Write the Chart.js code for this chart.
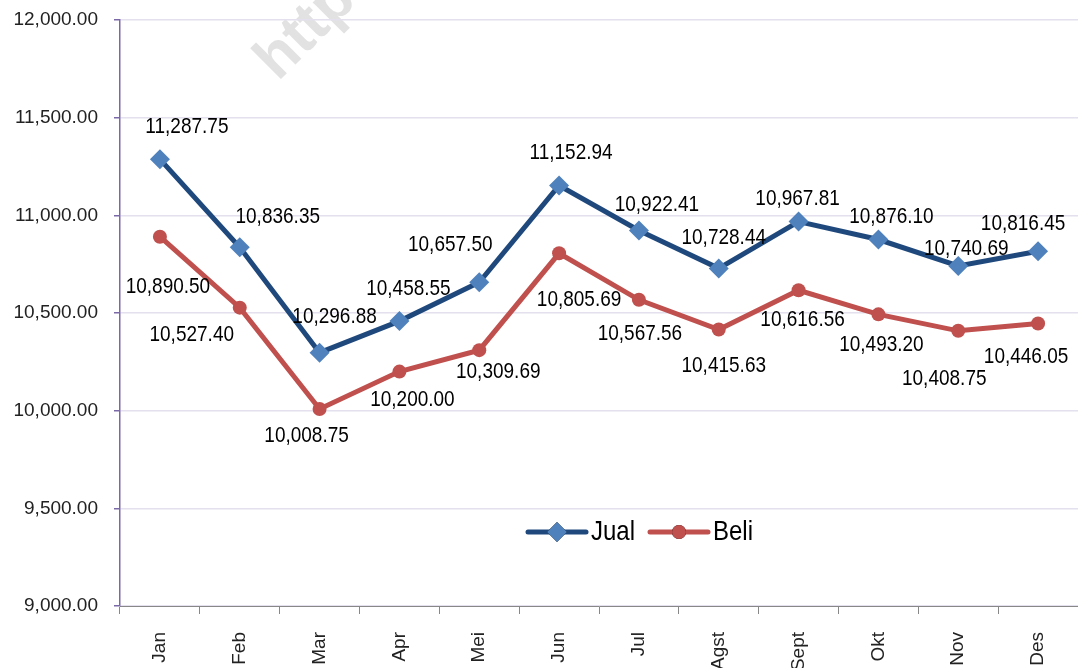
<!DOCTYPE html>
<html>
<head>
<meta charset="utf-8">
<script src="https://cdn.jsdelivr.net/npm/chart.js@4/dist/chart.umd.min.js"></script>
<style>
  html, body { margin: 0; padding: 0; background: #fff; overflow: hidden; }
  #wrap { width: 1078px; height: 668px; }
</style>
</head>
<body>
<div id="wrap"><canvas id="kurs" width="1078" height="668"></canvas></div>
<script>
const MONTHS = ['Jan', 'Feb', 'Mar', 'Apr', 'Mei', 'Jun', 'Jul', 'Agst', 'Sept', 'Okt', 'Nov', 'Des'];
const JUAL = [11287.75, 10836.35, 10296.88, 10458.55, 10657.50, 11152.94, 10922.41, 10728.44, 10967.81, 10876.10, 10740.69, 10816.45];
const BELI = [10890.50, 10527.40, 10008.75, 10200.00, 10309.69, 10805.69, 10567.56, 10415.63, 10616.56, 10493.20, 10408.75, 10446.05];
const Y_MIN = 9000, Y_MAX = 12000, Y_STEP = 500;

// where each value label sits relative to its point (dx, dy)
const JUAL_LABEL_POS = [[27,-32],[38,-30],[15,-36],[9,-32],[-29,-37],[12,-32],[18,-25],[5,-30],[-1,-22],[13,-22],[8,-17],[-15,-27]];
const BELI_LABEL_POS = [[8,50],[-48,27],[-13,27],[13,29],[19,22],[20,47],[1,34],[5,37],[4,30],[3,31],[-14,48],[-12,34]];

const FONT = '"Liberation Sans", Arial, sans-serif';
const fmt = v => v.toLocaleString('en-US', { minimumFractionDigits: 2, maximumFractionDigits: 2 });

// the source picture is a bit stretched vertically, text included
function tallText(ctx, text, x, y, sy) {
  ctx.save();
  ctx.translate(x, y);
  ctx.scale(1, sy);
  ctx.fillText(text, 0, 0);
  ctx.restore();
}

const watermark = {
  id: 'watermark',
  beforeDraw(chart) {
    const ctx = chart.ctx;
    ctx.save();
    ctx.translate(278, 82);
    ctx.rotate(-Math.PI / 4);
    ctx.font = 'bold 60px ' + FONT;
    ctx.fillStyle = '#e2e2e2';
    ctx.textBaseline = 'alphabetic';
    ctx.fillText('http://', 0, 0);
    ctx.restore();
  }
};

const valueLabels = {
  id: 'valueLabels',
  afterDatasetsDraw(chart) {
    const ctx = chart.ctx;
    const offsets = [JUAL_LABEL_POS, BELI_LABEL_POS];
    ctx.save();
    ctx.font = '19px ' + FONT;
    ctx.fillStyle = '#000';
    ctx.textAlign = 'center';
    ctx.textBaseline = 'middle';
    chart.data.datasets.forEach((ds, di) => {
      chart.getDatasetMeta(di).data.forEach((pt, i) => {
        const o = offsets[di][i];
        tallText(ctx, fmt(ds.data[i]), pt.x + o[0], pt.y + o[1], 1.12);
      });
    });
    ctx.restore();
  }
};

const innerLegend = {
  id: 'innerLegend',
  afterDraw(chart) {
    const ctx = chart.ctx;
    const y = 532;
    const items = [{ ds: chart.data.datasets[0], x: 528 }, { ds: chart.data.datasets[1], x: 650 }];
    ctx.save();
    items.forEach(it => {
      const ds = it.ds;
      ctx.strokeStyle = ds.borderColor;
      ctx.lineWidth = 5;
      ctx.lineCap = 'round';
      ctx.beginPath();
      ctx.moveTo(it.x, y);
      ctx.lineTo(it.x + 58, y);
      ctx.stroke();
      Chart.helpers.drawPoint(ctx, {
        pointStyle: ds.pointStyle, radius: ds.pointRadius, borderWidth: 0
      }, it.x + 29, y);
      ctx.fillStyle = ds.pointBackgroundColor;
      ctx.fill();
      ctx.fillStyle = '#000';
      ctx.font = '24px ' + FONT;
      ctx.textBaseline = 'middle';
      ctx.textAlign = 'left';
      tallText(ctx, ds.label, it.x + 63, y + 1, 1.12);
    });
    ctx.restore();
  }
};

new Chart(document.getElementById('kurs'), {
  type: 'line',
  data: {
    labels: MONTHS,
    datasets: [
      { label: 'Jual', data: JUAL, borderColor: '#1f497d', borderWidth: 5,
        pointStyle: 'rectRot', pointRadius: 10, pointBackgroundColor: '#4f81bd', pointBorderColor: '#4f81bd', pointBorderWidth: 0 },
      { label: 'Beli', data: BELI, borderColor: '#c0504d', borderWidth: 5,
        pointStyle: 'circle', pointRadius: 7, pointBackgroundColor: '#c0504d', pointBorderColor: '#c0504d', pointBorderWidth: 0 }
    ]
  },
  options: {
    responsive: false, animation: false, devicePixelRatio: 1,
    layout: { autoPadding: false, padding: { top: 20, left: 0, right: 0, bottom: 0 } },
    plugins: { legend: { display: false }, tooltip: { enabled: false } },
    scales: {
      x: {
        offset: true,
        border: { color: '#888', width: 1 },
        grid: { offset: true, drawOnChartArea: false, drawTicks: true, tickLength: 8, tickColor: '#888' },
        ticks: { minRotation: 90, maxRotation: 90, padding: 18, color: '#222', font: { family: FONT, size: 19 } },
        afterFit: s => { s.height = 62; s.paddingLeft = 0; s.paddingRight = 0; }
      },
      y: {
        min: Y_MIN, max: Y_MAX,
        border: { color: '#7b68a6', width: 1.5 },
        grid: { color: '#e4e0ee', lineWidth: 1.5, tickLength: 6, tickColor: '#7b68a6' },
        ticks: { stepSize: Y_STEP, padding: 16, color: '#222', font: { family: FONT, size: 19 }, callback: v => fmt(v) },
        afterFit: s => { s.width = 120; s.paddingTop = 0; s.paddingBottom = 0; }
      }
    }
  },
  plugins: [watermark, valueLabels, innerLegend]
});
</script>
</body>
</html>
